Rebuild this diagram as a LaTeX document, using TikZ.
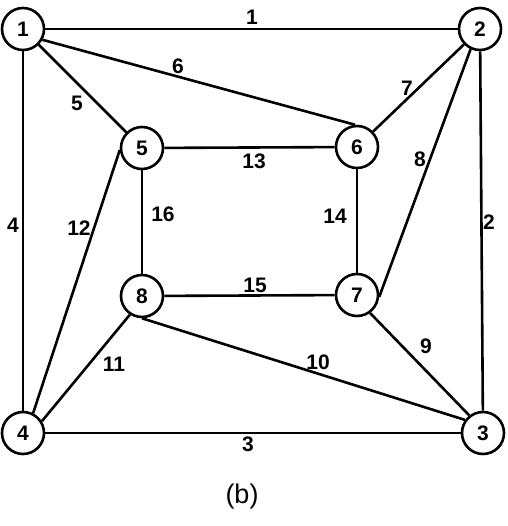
\documentclass[tikz,border=0pt]{standalone}
\usepackage{fontspec}
\setmainfont{Liberation Sans}
\begin{document}
\begin{tikzpicture}[x=1pt,y=-1pt,
  vtx/.style={circle,draw,line width=2.6pt,minimum size=42pt,inner sep=0pt,font=\fontsize{21}{24}\selectfont\bfseries},
  edge/.style={line width=2.6pt},
  lbl/.style={font=\fontsize{21}{24}\selectfont\bfseries,inner sep=0pt}]
\useasboundingbox (0,0) rectangle (507,526);
\node[vtx] (n1) at (23,29) {1};
\node[vtx] (n2) at (480,29) {2};
\node[vtx] (n3) at (483,433) {3};
\node[vtx] (n4) at (23,433) {4};
\node[vtx] (n5) at (142,148) {5};
\node[vtx] (n6) at (357,147) {6};
\node[vtx] (n7) at (357,295) {7};
\node[vtx] (n8) at (142,296) {8};
\draw[edge] (n1) -- (n2);
\draw[edge] (n2) -- (n3);
\draw[edge] (n4) -- (n3);
\draw[edge] (n1) -- (n4);
\draw[edge] (n1) -- (n5);
\draw[edge] (n1.-29) -- (n6.95);
\draw[edge] (n2) -- (n6);
\draw[edge] (n2.245) -- (n7.-5);
\draw[edge] (n7.-54) -- (n3.128);
\draw[edge] (n8.270) -- (n3.144);
\draw[edge] (n8.237) -- (n4.32);
\draw[edge] (n5.185) -- (n4.63);
\draw[edge] (n5) -- (n6);
\draw[edge] (n6) -- (n7);
\draw[edge] (n8) -- (n7);
\draw[edge] (n5) -- (n8);
\node[lbl] (l1) at (252,17) {1};
\node[lbl] (l2) at (489,222) {2};
\node[lbl] (l3) at (248,444) {3};
\node[lbl] (l4) at (13,225) {4};
\node[lbl] (l5) at (77,103) {5};
\node[lbl] (l6) at (178,66) {6};
\node[lbl] (l7) at (407,88) {7};
\node[lbl] (l8) at (420,159) {8};
\node[lbl] (l9) at (426,346) {9};
\node[lbl] (l10) at (318,362) {10};
\node[lbl] (l11) at (114,364) {11};
\node[lbl] (l12) at (79,228) {12};
\node[lbl] (l13) at (254,161) {13};
\node[lbl] (l14) at (335,216) {14};
\node[lbl] (l15) at (255,285) {15};
\node[lbl] (l16) at (163,214) {16};
\node[font=\fontsize{27}{30}\selectfont,inner sep=0pt] (cap) at (242,497) {(b)};
\end{tikzpicture}
\end{document}
